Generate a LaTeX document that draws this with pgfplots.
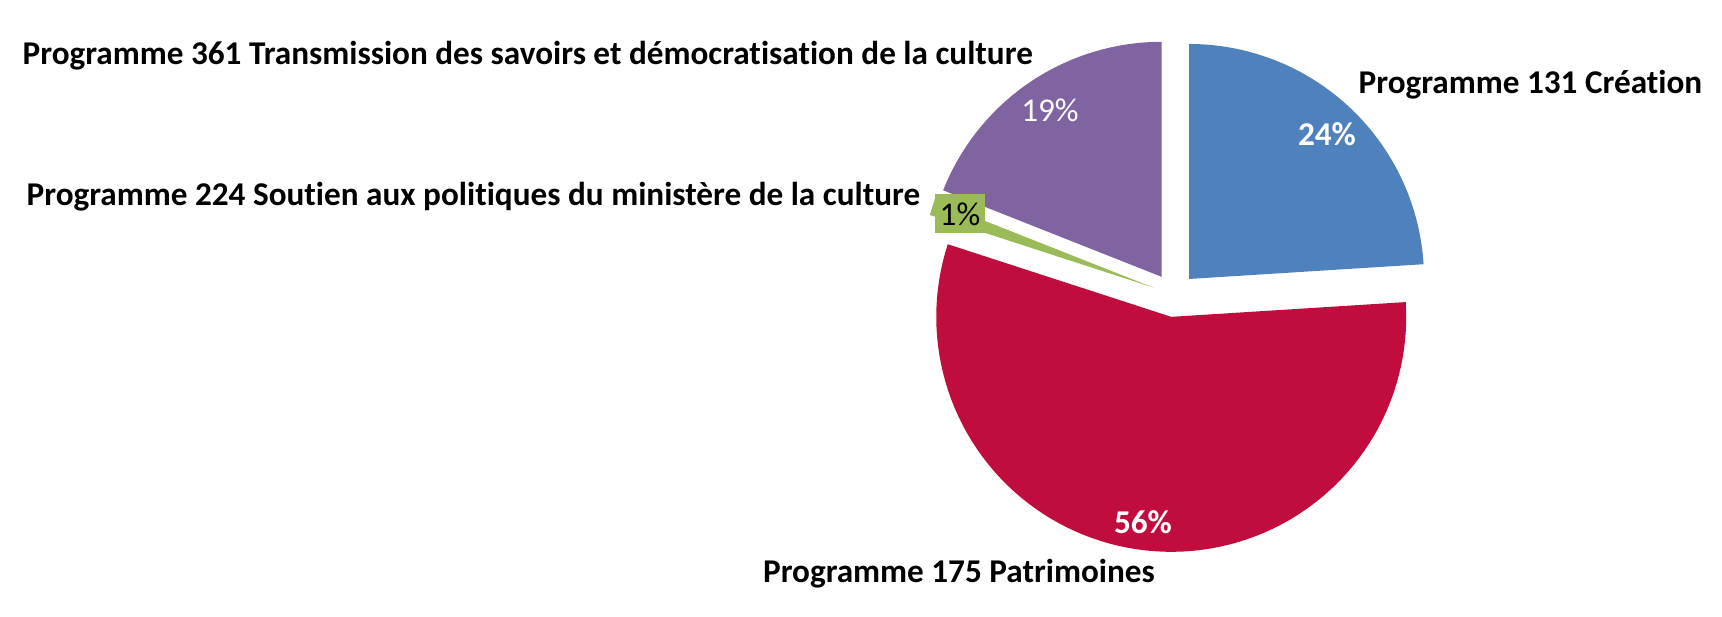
\documentclass[border=0pt]{standalone}
\usepackage{pgfplots}
\usepackage{pgfplotstable}
\pgfplotsset{compat=1.18}
\usepackage{fontspec}
\setmainfont{Carlito}[Ligatures=NoCommon]
\definecolor{cBlue}{HTML}{4F81BD}
\definecolor{cRed}{HTML}{C00D3D}
\definecolor{cGreen}{HTML}{9BBB59}
\definecolor{cPurple}{HTML}{8064A2}

\pgfplotstableread{
prog value
131 24
175 56
224 1
361 19
}\piedata

\newcommand{\getval}[2]{\pgfplotstablegetelem{#1}{value}\of\piedata\global\let#2\pgfplotsretval}
\def\cx{1174}\def\cy{321}\def\R{235}\def\off{22}
\newcommand{\slice}[3]{% start end color
  \pgfmathsetmacro{\mid}{(#1+#2)/2}%
  \pgfmathsetmacro{\ox}{\cx+\off*cos(\mid)}%
  \pgfmathsetmacro{\oy}{\cy+\off*sin(\mid)}%
  \edef\temp{\noexpand\addplot[fill=#3, draw=none, domain=#2:#1, samples=90, variable=\noexpand\t]
    ({\ox+\R*cos(\noexpand\t)}, {\oy+\R*sin(\noexpand\t)}) -- (axis cs:\ox,\oy) -- cycle;}%
  \temp
}
\newcommand{\lf}{\fontsize{9.45}{11}\selectfont}

\begin{document}
\begin{tikzpicture}
\getval{0}{\vA}\getval{1}{\vB}\getval{2}{\vC}\getval{3}{\vD}
\pgfmathsetmacro{\aA}{90}
\pgfmathsetmacro{\aB}{\aA-3.6*\vA}
\pgfmathsetmacro{\aC}{\aB-3.6*\vB}
\pgfmathsetmacro{\aD}{\aC-3.6*\vC}
\pgfmathsetmacro{\aE}{\aD-3.6*\vD}
\begin{axis}[hide axis, scale only axis, width=17.22cm, height=6.16cm,
  xmin=0, xmax=1722, ymin=0, ymax=616, clip=false]
\path (axis cs:0,0) rectangle (axis cs:1722,616);
\slice{\aA}{\aB}{cBlue}
\slice{\aB}{\aC}{cRed}
\slice{\aC}{\aD}{cGreen}
\slice{\aD}{\aE}{cPurple}
% category labels
\node[inner sep=0pt, anchor=base west, font=\lf\bfseries] at (axis cs:1358,523) {Programme 131 Création};
\node[inner sep=0pt, anchor=base west, font=\lf\bfseries] at (axis cs:22,552) {Programme 361 Transmission des savoirs et démocratisation de la culture};
\node[inner sep=0pt, anchor=base west, font=\lf\bfseries] at (axis cs:26,411) {Programme 224 Soutien aux politiques du ministère de la culture};
\node[inner sep=0pt, anchor=base, font=\lf\bfseries] at (axis cs:959,34) {Programme 175 Patrimoines};
% value labels
\node[inner sep=0pt, anchor=base, text=white, font=\lf\bfseries] at (axis cs:1327,471) {24\%};
\node[inner sep=0pt, anchor=base, text=white, font=\lf\bfseries] at (axis cs:1143,83) {56\%};
\node[inner sep=0pt, anchor=base, text=white, font=\lf] at (axis cs:1050,495) {19\%};
\fill[cGreen] (axis cs:935,418) -- (axis cs:931,404) -- (axis cs:935,401) -- cycle;
\node[inner sep=0pt, fill=cGreen, minimum width=0.5cm, minimum height=0.39cm] at (axis cs:960,402.5) {};
\node[inner sep=0pt, anchor=base, text=black, font=\lf] at (axis cs:960,391) {1\%};
\end{axis}
\end{tikzpicture}
\end{document}
